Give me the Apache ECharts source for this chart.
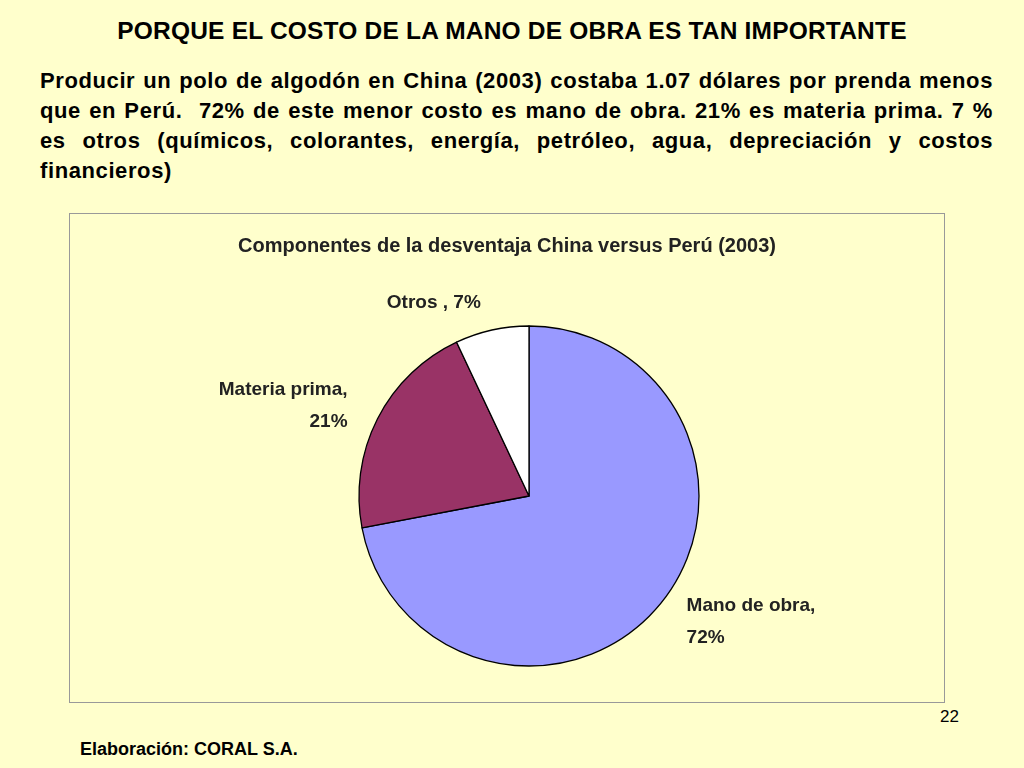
<!DOCTYPE html>
<html><head><meta charset="utf-8">
<script src="https://cdn.jsdelivr.net/npm/echarts@6/dist/echarts.min.js"></script>
<style>
html,body{margin:0;padding:0;width:1024px;height:768px;background:#FFFFCC;font-family:"Liberation Sans",Arial,sans-serif;overflow:hidden}
.t{position:absolute;font-weight:bold;color:#000}
#title{left:0;width:1024px;top:17px;text-align:center;font-size:24.5px;letter-spacing:0.2px}
#para{left:40px;width:953px;top:66px;font-size:22px;line-height:30px;text-align:justify;letter-spacing:0.6px}
#chart{position:absolute;left:69px;top:213px;width:876px;height:490px;border:1px solid #999;box-sizing:border-box}
#pg{left:940px;top:707px;font-size:17px;font-weight:normal}
#src{left:80px;top:739px;font-size:18px}
</style></head><body>
<div class="t" id="title">PORQUE EL COSTO DE LA MANO DE OBRA ES TAN IMPORTANTE</div>
<div class="t" id="para">Producir un polo de algodón en China (2003) costaba 1.07 dólares por prenda menos que en Perú.&nbsp; 72% de este menor costo es mano de obra. 21% es materia prima. 7 % es otros (químicos, colorantes, energía, petróleo, agua, depreciación y costos financieros)</div>
<div id="chart"></div>
<div class="t" id="pg">22</div>
<div class="t" id="src">Elaboración: CORAL S.A.</div>
<script>
const chartTitle = 'Componentes de la desventaja China versus Perú (2003)';
const categories = ['Mano de obra', 'Materia prima', 'Otros '];
const values = [72, 21, 7];
const colors = ['#9999FF', '#993366', '#FFFFFF'];
const c = echarts.init(document.getElementById('chart'));
c.setOption({
  animation:false,
  title:{text:chartTitle,left:'center',top:17,textStyle:{fontFamily:'Liberation Sans',fontSize:20,fontWeight:'bold',color:'#222'}},
  series:[{type:'pie',center:[459,282],radius:[0,170],startAngle:90,clockwise:true,
    data:categories.map((n,i)=>({name:n,value:values[i],itemStyle:{color:colors[i]}})),
    itemStyle:{borderColor:'#000',borderWidth:1.3},
    label:{show:true,position:'outside',formatter:p=>p.dataIndex===2?p.name+', '+p.value+'%':p.name+',\n'+p.value+'%',
      fontFamily:'Liberation Sans',fontSize:19,fontWeight:'bold',color:'#222',lineHeight:32,align:'center'},
    labelLine:{show:false,length:28,length2:0}
  }]
});
</script>
</body></html>
